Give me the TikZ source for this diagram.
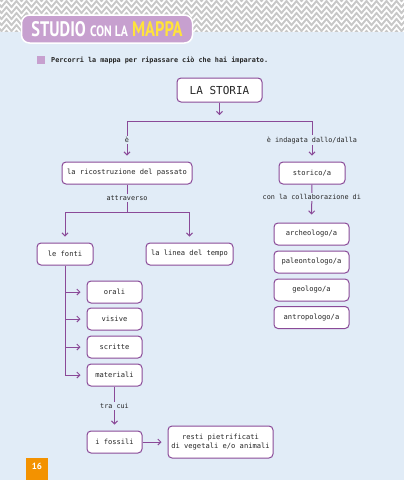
\documentclass[tikz,border=0pt]{standalone}
\usepackage{fontspec}
\setmonofont{DejaVu Sans Mono}
\newfontfamily\titlefont{PT Sans}
\usepackage{xcolor}
\usetikzlibrary{positioning, arrows.meta, calc}
\usetikzlibrary{decorations.pathmorphing}

\definecolor{mapline}{HTML}{8A4A98}
\definecolor{pagebg}{HTML}{E1ECF7}
\definecolor{bandgray}{HTML}{C8C8C8}
\definecolor{lilac}{HTML}{C7A0CF}
\definecolor{mapyellow}{HTML}{FFE33B}
\definecolor{pageorange}{HTML}{F39200}
\definecolor{maptext}{HTML}{262626}

\begin{document}
\begin{tikzpicture}[
    x=1pt, y=-1pt,
    concept/.style={draw=mapline, line width=1pt, rectangle, rounded corners=4pt, fill=white, minimum height=22pt, align=center, text=maptext, font=\ttfamily\fontsize{7.1}{9}\selectfont, inner sep=2pt},
    lab/.style={fill=pagebg, inner sep=1.5pt, text=maptext, font=\ttfamily\fontsize{6.8}{8}\selectfont},
    link/.style={draw=mapline, line width=1pt},
    arr/.style={draw=mapline, line width=1pt, -{Straight Barb[length=3pt, width=6pt]}, shorten >=6pt}
]
    \useasboundingbox (0,0) rectangle (404,480);

    % Page background and header band
    \fill[pagebg] (0,32) rectangle (404,480);
    \fill[bandgray] (0,0) rectangle (404,32);
    \foreach \y in {1,7,13,19,25,31}
        \draw[white, line width=1.6pt, decorate, decoration={zigzag, segment length=10pt, amplitude=3pt}] (-6,\y) -- (410,\y);
    \fill[pagebg] (0,32) rectangle (404,36);

    % Title badge
    \node[draw=white, line width=1.5pt, fill=lilac, rounded corners=8pt, minimum width=171pt, minimum height=28pt] (badge) at (107,29) {};
    \node[font=\titlefont\bfseries\fontsize{21}{21}\selectfont, xscale=0.78] (title) at (107,29)
        {\textcolor{white}{STUDIO {\fontsize{15}{15}\selectfont CON LA}} \textcolor{mapyellow}{MAPPA}};

    % Instruction
    \fill[lilac] (37,56) rectangle (45,64);
    \node[anchor=west, inner sep=0pt, text=maptext, font=\ttfamily\bfseries\fontsize{6.8}{8}\selectfont] (hint) at (51,60.5)
        {Percorri la mappa per ripassare ciò che hai imparato.};

    % Concepts
    \node[concept, minimum width=85pt, minimum height=24pt, font=\ttfamily\fontsize{11}{13}\selectfont] (storia) at (219.5,90) {LA STORIA};
    \node[concept, minimum width=130pt] (passato) at (127,173) {la ricostruzione del passato};
    \node[concept, minimum width=66pt] (storico) at (312,173) {storico/a};

    \node[concept, minimum width=56pt] (fonti) at (65,254) {le fonti};
    \node[concept, minimum width=87pt] (linea) at (189.5,254) {la linea del tempo};

    \node[concept, minimum width=75pt] (archeo) at (311.5,234) {archeologo/a};
    \node[concept, minimum width=75pt] (paleo) at (311.5,262) {paleontologo/a};
    \node[concept, minimum width=75pt] (geo) at (311.5,290) {geologo/a};
    \node[concept, minimum width=75pt] (antropo) at (311.5,317.5) {antropologo/a};

    \node[concept, minimum width=55pt] (orali) at (114.5,292) {orali};
    \node[concept, minimum width=55pt] (visive) at (114.5,319) {visive};
    \node[concept, minimum width=55pt] (scritte) at (114.5,347) {scritte};
    \node[concept, minimum width=55pt] (materiali) at (114.5,375) {materiali};

    \node[concept, minimum width=55pt] (fossili) at (114.5,442) {i fossili};
    \node[concept, minimum width=105pt, minimum height=32pt] (resti) at (220.5,442) {resti pietrificati\\di vegetali e/o animali};

    % Branch points
    \coordinate (storiatip) at (219.5,115);
    \coordinate (splitL) at (127,121);
    \coordinate (splitR) at (312,121);
    \coordinate (attrL) at (65,212);
    \coordinate (attrM) at (127,212);
    \coordinate (attrR) at (189.5,212);

    % Connections
    \draw[link, -{Straight Barb[length=3pt, width=6pt]}] (storia) -- (storiatip);
    \draw[link] (splitL) -- (splitR);
    \draw[arr] (splitL) -- node[lab, pos=0.47] {è} (passato);
    \draw[arr] (splitR) -- node[lab, pos=0.47] {è indagata dallo/dalla} (storico);

    \draw[link] (passato) -- node[lab] {attraverso} (attrM);
    \draw[link] (attrL) -- (attrR);
    \draw[arr] (attrL) -- (fonti);
    \draw[arr] (attrR) -- (linea);

    \draw[arr, shorten >=8pt] (storico) -- node[lab, pos=0.33] {con la collaborazione di} (archeo);

    \draw[link] (fonti.south) -- (fonti.south |- materiali);
    \foreach \n in {orali, visive, scritte, materiali}
        \draw[arr] (fonti.south |- \n) -- (\n);

    \draw[arr] (materiali) -- node[lab, pos=0.45] {tra cui} (fossili);
    \draw[arr] (fossili) -- (resti);

    % Page number
    \fill[pageorange] (26,458) rectangle (48,480);
    \node[text=white, font=\titlefont\bfseries\fontsize{9}{9}\selectfont] (pagenum) at (37,466) {16};

\end{tikzpicture}
\end{document}
